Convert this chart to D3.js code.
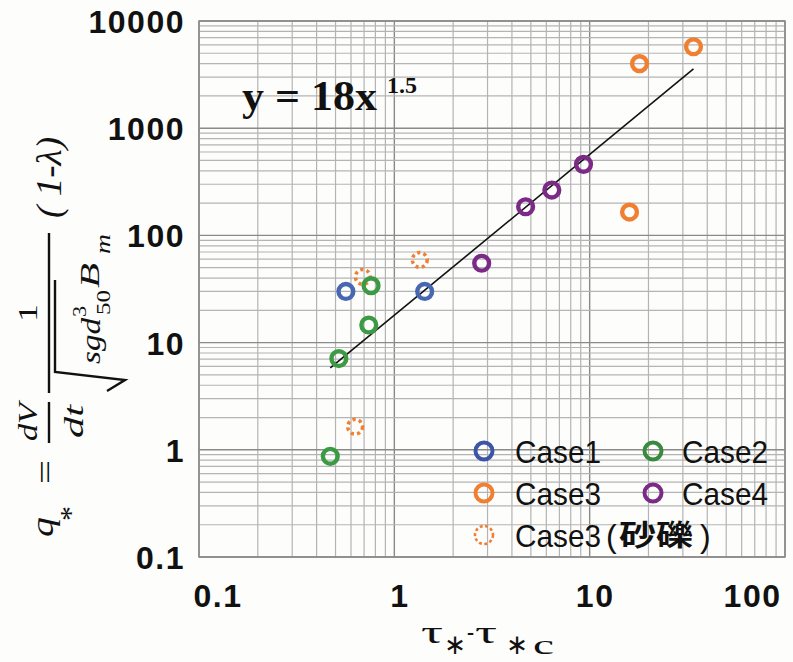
<!DOCTYPE html>
<html>
<head>
<meta charset="utf-8">
<script src="https://cdn.jsdelivr.net/npm/d3@7"></script>
<style>
  html, body { margin: 0; padding: 0; background: #fdfdfc; }
  svg { display: block; }
</style>
</head>
<body>
<svg id="chart" width="793" height="662"></svg>
<script>
// ---- data ----
const xTicks = [0.1, 1, 10, 100];
const xTickLabels = ["0.1", "1", "10", "100"];
const yTicks = [0.1, 1, 10, 100, 1000, 10000];
const yTickLabels = ["0.1", "1", "10", "100", "1000", "10000"];

const case1X = [0.565, 1.43];
const case1Y = [30, 30];
const case2X = [0.76, 0.74, 0.52, 0.47];
const case2Y = [34, 14.6, 7.1, 0.87];
const case3X = [18, 34, 16];
const case3Y = [4000, 5750, 165];
const case4X = [2.8, 4.7, 6.4, 9.3];
const case4Y = [55, 185, 265, 460];
const gravelX = [0.69, 1.35, 0.63];
const gravelY = [41, 59, 1.64];

// power-law fit y = 18 x^1.5 over the fitted range
const fitCoef = 18;
const fitExp = 1.5;
const fitRange = [0.47, 34];

const seriesNames = ["Case1", "Case2", "Case3", "Case4", "Case3"];
const seriesColors = ["#4767b0", "#3c9a45", "#f07f32", "#7b2a86", "#f07f32"];

// ---- layout ----
const svg = d3.select("#chart");
const plot = { left: 199, right: 785, top: 21, bottom: 557 };

const x = d3.scaleLog().domain([0.1, 100]).range([plot.left, plot.right]);
const y = d3.scaleLog().domain([0.1, 10000]).range([plot.bottom, plot.top]);

svg.append("rect").attr("width", 793).attr("height", 662).attr("fill", "#fdfdfc");

// ---- grid ----
function gridValues(lo, hi) {
  const out = [];
  for (let e = Math.log10(lo); e < Math.log10(hi); e++) {
    for (let m = 1; m <= 9; m++) out.push({ v: m * Math.pow(10, e), major: m === 1 });
  }
  out.push({ v: hi, major: true });
  return out;
}
const grid = svg.append("g");
grid.selectAll("line.gx").data(gridValues(0.1, 100)).join("line")
  .attr("x1", d => x(d.v)).attr("x2", d => x(d.v))
  .attr("y1", plot.top).attr("y2", plot.bottom)
  .attr("stroke", d => d.major ? "#8a8a8a" : "#b4b4b4")
  .attr("stroke-width", d => d.major ? 1.4 : 1.2);
grid.selectAll("line.gy").data(gridValues(0.1, 10000)).join("line")
  .attr("y1", d => y(d.v)).attr("y2", d => y(d.v))
  .attr("x1", plot.left).attr("x2", plot.right)
  .attr("stroke", d => d.major ? "#8a8a8a" : "#b4b4b4")
  .attr("stroke-width", d => d.major ? 1.4 : 1.2);
svg.append("rect")
  .attr("x", plot.left).attr("y", plot.top)
  .attr("width", plot.right - plot.left).attr("height", plot.bottom - plot.top)
  .attr("fill", "none").attr("stroke", "#8a8a8a").attr("stroke-width", 1.5);

// ---- axes (labels only) ----
const tickFont = "'Liberation Sans', Arial, sans-serif";
const yAxis = d3.axisLeft(y).tickValues(yTicks)
  .tickFormat((d, i) => yTickLabels[i]).tickSize(0).tickPadding(14);
const gy = svg.append("g").attr("transform", `translate(${plot.left},0)`).call(yAxis);
gy.select(".domain").remove();
gy.selectAll("text")
  .attr("font-family", tickFont).attr("font-size", 32).attr("font-weight", "bold")
  .attr("letter-spacing", "1.5px").attr("fill", "#111").attr("dy", "0.36em");

const xAxis = d3.axisBottom(x).tickValues(xTicks)
  .tickFormat((d, i) => xTickLabels[i]).tickSize(0).tickPadding(27);
const gx = svg.append("g").attr("transform", `translate(0,${plot.bottom})`).call(xAxis);
gx.select(".domain").remove();
gx.selectAll("text")
  .attr("font-family", tickFont).attr("font-size", 32).attr("font-weight", "bold")
  .attr("letter-spacing", "1.5px").attr("fill", "#111")
  .attr("text-anchor", (d, i) => i === 0 ? "start" : (i === xTicks.length - 1 ? "end" : "middle"))
  .attr("dx", (d, i) => i === 0 ? -6 : (i === xTicks.length - 1 ? -4 : 5));

// ---- fit line ----
const fitLine = d3.line().x(d => x(d)).y(d => y(fitCoef * Math.pow(d, fitExp)));
svg.append("path").datum(fitRange).attr("d", fitLine)
  .attr("fill", "none").attr("stroke", "#111").attr("stroke-width", 1.6);

// ---- points ----
function drawSeries(xs, ys, color, dashed) {
  svg.append("g").selectAll("circle").data(xs.map((v, i) => [v, ys[i]])).join("circle")
    .attr("cx", d => x(d[0])).attr("cy", d => y(d[1])).attr("r", 7.4)
    .attr("fill", "none").attr("stroke", color)
    .attr("stroke-width", dashed ? 3.5 : 4.4)
    .attr("stroke-dasharray", dashed ? "3.2,3.2" : null);
}
drawSeries(gravelX, gravelY, seriesColors[4], true);
drawSeries(case1X, case1Y, seriesColors[0], false);
drawSeries(case2X, case2Y, seriesColors[1], false);
drawSeries(case3X, case3Y, seriesColors[2], false);
drawSeries(case4X, case4Y, seriesColors[3], false);

// ---- legend ----
const legendFont = "'Liberation Sans', Arial, sans-serif";
const legendItems = [
  { name: seriesNames[0], color: "#3d55a6", mx: 484, tx: 515, cy: 451, dashed: false },
  { name: seriesNames[1], color: "#3a8a3e", mx: 653, tx: 682, cy: 451, dashed: false },
  { name: seriesNames[2], color: seriesColors[2], mx: 484, tx: 515, cy: 493, dashed: false },
  { name: seriesNames[3], color: seriesColors[3], mx: 653, tx: 682, cy: 493, dashed: false },
  { name: seriesNames[4], color: seriesColors[4], mx: 484, tx: 515, cy: 535, dashed: true, extra: "砂礫" }
];
const lg = svg.append("g");
legendItems.forEach(it => {
  lg.append("circle").attr("cx", it.mx).attr("cy", it.cy).attr("r", it.dashed ? 9 : 8.5)
    .attr("fill", "none").attr("stroke", it.color)
    .attr("stroke-width", it.dashed ? 2.6 : 4)
    .attr("stroke-dasharray", it.dashed ? "3,2.4" : null);
  lg.append("text").attr("x", it.tx).attr("y", it.cy + 11.5)
    .attr("font-family", legendFont).attr("font-size", 32).attr("fill", "#111")
    .attr("textLength", 86).attr("lengthAdjust", "spacingAndGlyphs")
    .text(it.name);
  if (it.extra) {
    lg.append("text").attr("x", 606).attr("y", it.cy + 11.5)
      .attr("font-family", legendFont).attr("font-size", 32).attr("fill", "#111")
      .text("(");
    lg.append("text").attr("x", 619).attr("y", it.cy + 10.5)
      .attr("font-family", "'Noto Sans CJK JP', sans-serif").attr("font-size", 29)
      .attr("font-weight", "bold").attr("fill", "#111")
      .attr("textLength", 74).attr("lengthAdjust", "spacingAndGlyphs")
      .text(it.extra);
    lg.append("text").attr("x", 700).attr("y", it.cy + 11.5)
      .attr("font-family", legendFont).attr("font-size", 32).attr("fill", "#111")
      .text(")");
  }
});

// ---- fit equation ----
const serif = "'Liberation Serif', 'Times New Roman', serif";
svg.append("text").attr("x", 242).attr("y", 110)
  .attr("font-family", serif).attr("font-size", 42).attr("font-weight", "bold").attr("fill", "#111")
  .attr("textLength", 135).attr("lengthAdjust", "spacingAndGlyphs")
  .text("y = 18x");
svg.append("text").attr("x", 387).attr("y", 93)
  .attr("font-family", serif).attr("font-size", 24).attr("font-weight", "bold").attr("fill", "#111")
  .text("1.5");

// ---- x axis title: τ*-τ*c ----
function put(str, px, py, size, opts = {}) {
  const t = svg.append("text").attr("x", px).attr("y", py)
    .attr("font-family", opts.family || serif).attr("font-size", size).attr("fill", "#111")
    .attr("font-style", opts.italic ? "italic" : null)
    .text(str);
  if (opts.len) t.attr("textLength", opts.len).attr("lengthAdjust", "spacingAndGlyphs");
  return t;
}
const symFont = "'DejaVu Sans', sans-serif";
put("τ", 421, 643, 32, { len: 22 });
put("∗", 444, 654, 28, { len: 22, family: symFont });
put("-", 467, 640, 28, { len: 7 });
put("τ", 475, 643, 32, { len: 22 });
put("∗", 506, 654, 28, { len: 22, family: symFont });
put("c", 533, 654, 28, { len: 21 });

// ---- y axis title (rotated formula) ----
// each piece runs upward from yBottom to yTop with its baseline at screen x = bx
const yl = svg.append("g");
function vput(str, yBottom, yTop, bx, size, opts = {}) {
  const t = yl.append("text")
    .attr("transform", `translate(${bx},${yBottom}) rotate(-90)`)
    .attr("font-family", serif).attr("font-size", size).attr("fill", "#111")
    .attr("font-style", opts.italic ? "italic" : null)
    .attr("textLength", yBottom - yTop).attr("lengthAdjust", "spacingAndGlyphs")
    .text(str);
  return t;
}
vput("q", 537, 517, 53, 32, { italic: true });
vput("*", 521, 506, 80, 30);
vput("=", 484, 460, 56, 32);
vput("dV", 441, 403, 37, 28, { italic: true });
vput("dt", 438, 405, 83, 28, { italic: true });
vput("1", 322, 304, 37, 28);
vput("sgd", 364, 318, 100, 28, { italic: true });
vput("3", 317, 306, 86, 18);
vput("50", 315, 290, 110, 18);
vput("B", 288, 263, 99, 28, { italic: true });
vput("m", 254, 234, 110, 20, { italic: true });
vput("( 1-λ)", 218, 137, 61, 36, { italic: true });
// fraction bars
yl.append("line").attr("x1", 49).attr("x2", 49).attr("y1", 443).attr("y2", 402)
  .attr("stroke", "#111").attr("stroke-width", 2.4);
yl.append("line").attr("x1", 49).attr("x2", 49).attr("y1", 393).attr("y2", 233)
  .attr("stroke", "#111").attr("stroke-width", 2.4);
// radical sign
yl.append("path").attr("d", "M55,280 L55,372 L125,380 L107,391")
  .attr("fill", "none").attr("stroke", "#111").attr("stroke-width", 2.4)
  .attr("stroke-linejoin", "miter");
</script>
</body>
</html>
